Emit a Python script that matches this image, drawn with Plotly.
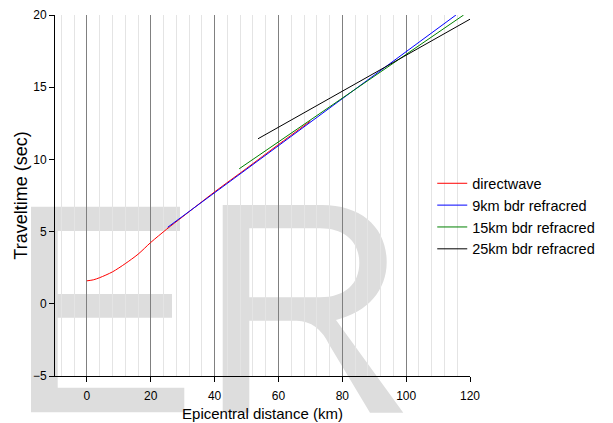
import plotly.graph_objects as go

# ---- data ----
dist_direct = [0, 2, 4, 8, 12, 16, 20, 25, 30, 40, 50, 60, 70]
time_direct = [1.59, 1.66, 1.81, 2.21, 2.78, 3.43, 4.25, 5.17, 6.03, 7.75, 9.38, 11.03, 12.65]

dist_9km = [25.3, 115.6]
time_9km = [5.30, 20.0]

dist_15km = [47.7, 118.0]
time_15km = [9.35, 20.0]

dist_25km = [53.6, 120.0]
time_25km = [11.43, 19.71]

series_names = ["directwave", "9km bdr refracred", "15km bdr refracred", "25km bdr refracred"]
series_colors = ["#ff0000", "#0000ff", "#008000", "#000000"]
series_shapes = ["spline", "linear", "linear", "linear"]

# ---- figure geometry ----
W, H = 613, 423
ML, MR, MT, MB = 55, 143, 15, 47
PW, PH = W - ML - MR, H - MT - MB

def px(x):
    return (x - ML) / PW

def py(y):
    return (H - MB - y) / PH

def path(cmds):
    out = []
    for c, pts in cmds:
        s = c
        for (a, b) in pts:
            s += " %.5f,%.5f" % (px(a), py(b))
        out.append(s)
    return " ".join(out) + " Z"

FONT = "Liberation Sans, Arial, sans-serif"
WM = "#dddddd"

fig = go.Figure()
xs = [dist_direct, dist_9km, dist_15km, dist_25km]
ys = [time_direct, time_9km, time_15km, time_25km]
for name, col, shp, x, y in zip(series_names, series_colors, series_shapes, xs, ys):
    fig.add_trace(go.Scatter(x=x, y=y, mode="lines", name=name,
                             line=dict(color=col, width=1, shape=shp, smoothing=0.8)))

shapes = []
# watermark "E"
E_path = path([
    ("M", [(31, 206.7)]), ("L", [(180, 206.7)]), ("L", [(180, 231)]), ("L", [(57.7, 231)]),
    ("L", [(57.7, 294)]), ("L", [(172, 294)]), ("L", [(172, 317.7)]), ("L", [(57.7, 317.7)]),
    ("L", [(57.7, 387.7)]), ("L", [(184.3, 387.7)]), ("L", [(184.3, 412.3)]), ("L", [(31, 412.3)]),
])
shapes.append(dict(type="path", xref="paper", yref="paper", path=E_path,
                   fillcolor=WM, line=dict(width=0), layer="below"))
# watermark "R"
R_outer = path([
    ("M", [(222.7, 412.7)]), ("L", [(222.7, 205)]), ("L", [(322, 205)]),
    ("C", [(362, 205), (386.7, 228), (386.7, 262)]),
    ("C", [(386.7, 290), (368, 312), (336, 320)]),
    ("L", [(403.3, 412.7)]), ("L", [(370, 412.7)]), ("L", [(329.4, 345)]),
    ("Q", [(318, 321), (296.7, 320.7)]),
    ("L", [(249.3, 320.7)]), ("L", [(249.3, 412.7)]),
])
R_inner = path([
    ("M", [(249.3, 228.3)]), ("L", [(320, 228.3)]),
    ("C", [(345, 228.3), (359.3, 242), (359.3, 262.8)]),
    ("C", [(359.3, 284), (345, 297.3), (320, 297.3)]),
    ("L", [(249.3, 297.3)]),
])
shapes.append(dict(type="path", xref="paper", yref="paper", path=R_outer + " " + R_inner,
                   fillcolor=WM, line=dict(width=0), layer="below", fillrule="evenodd"))

fig.update_layout(
    width=W, height=H,
    margin=dict(l=ML, r=MR, t=MT, b=MB, pad=0, autoexpand=False),
    paper_bgcolor="white", plot_bgcolor="rgba(0,0,0,0)",
    font=dict(family=FONT, size=12, color="#000000"),
    shapes=shapes,
    showlegend=True,
    legend=dict(x=0.909, xanchor="left", y=0.578, yanchor="top",
                bgcolor="rgba(0,0,0,0)", font=dict(size=14.5, family=FONT),
                tracegroupgap=0),
    xaxis=dict(range=[-10, 120], tick0=0, dtick=20, showgrid=True, gridcolor="#808080",
               gridwidth=1, zeroline=False, showline=True, linecolor="#000000", linewidth=1,
               ticks="outside", ticklen=5, tickcolor="#000000", automargin=False,
               ticklabelstandoff=4,
               tickfont=dict(size=12, family=FONT),
               minor=dict(dtick=4, tick0=0, showgrid=True, gridcolor="#e4e4e4", gridwidth=1,
                          ticks=""),
               title=dict(text="Epicentral distance (km)", font=dict(size=15, family=FONT),
                          standoff=6)),
    yaxis=dict(range=[-5, 20], tick0=0, dtick=5, showgrid=False, zeroline=False,
               showline=True, linecolor="#000000", linewidth=1, automargin=False,
               ticks="outside", ticklen=5, tickcolor="#000000",
               tickfont=dict(size=12, family=FONT),
               title=dict(text="Traveltime (sec)", font=dict(size=18, family=FONT),
                          standoff=0)),
)

fig.write_html("out.html")
